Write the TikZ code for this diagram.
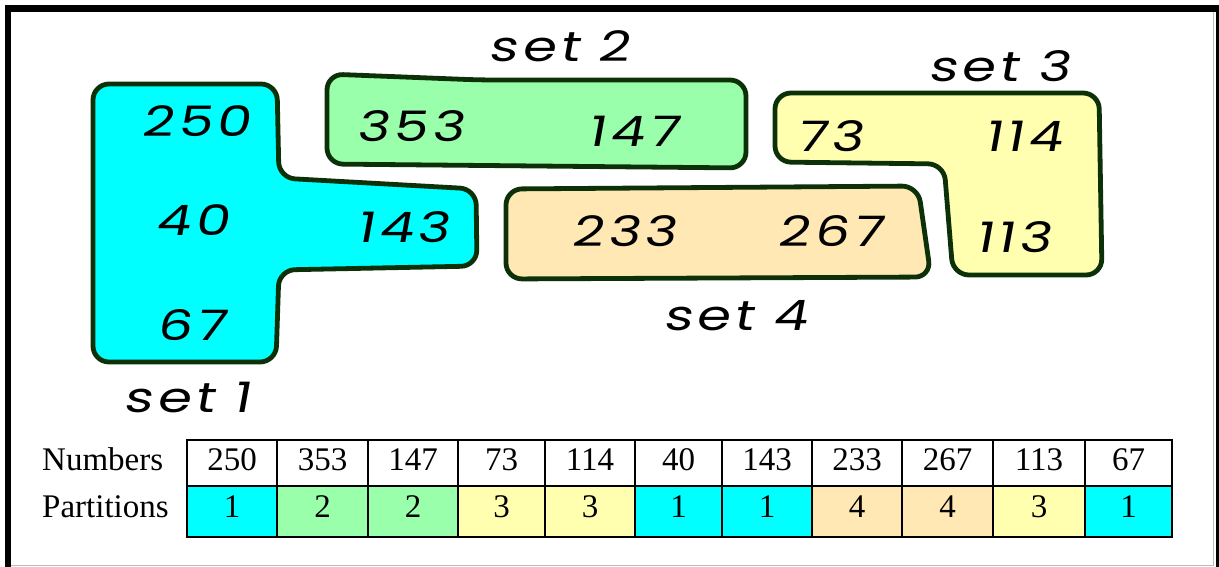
\documentclass[tikz,border=0pt]{standalone}
\usepackage{fontspec}
\setmainfont{Liberation Serif}
\newfontfamily\hand[FakeSlant=0.18,FakeStretch=1.3,LetterSpace=10]{Poppins}
\definecolor{cyanA}{RGB}{0,255,255}
\definecolor{greenA}{RGB}{153,255,170}
\definecolor{yellowA}{RGB}{255,255,175}
\definecolor{tanA}{RGB}{255,232,180}
\definecolor{edgeA}{RGB}{12,48,8}
\definecolor{frameG}{RGB}{190,190,190}
\begin{document}
\begin{tikzpicture}[x=1pt,y=-1pt,
  blob/.style={draw=edgeA,line width=4.8pt,line join=round,rounded corners=16pt},
  num/.style={font=\hand\fontsize{42}{46}\selectfont,anchor=base,inner sep=0pt},
  setlab/.style={font=\hand\fontsize{42}{46}\selectfont,anchor=base,inner sep=0pt},
  cell/.style={draw=black,line width=1.8pt,inner sep=0pt,minimum height=46pt,
    font=\fontsize{33}{36}\selectfont},
  rowlab/.style={font=\fontsize{33}{36}\selectfont,anchor=base west,inner sep=0pt}]
\useasboundingbox (0,0) rectangle (1219,567);
% frame
\fill[black] (5,5) rectangle (1219,12);
\fill[black] (5,5) rectangle (11,567);
\fill[black] (1216,5) rectangle (1219,567);
\draw[frameG,line width=1.5pt] (1213.5,12) -- (1213.5,565.5) -- (11,565.5);
% set 1
\draw[blob,fill=cyanA] (93,220) -- (93,84) -- (277,84) -- (279,178) -- (476,189) -- (477,266) -- (279,270) -- (276,362) -- (93,362) -- cycle;
% set 2
\draw[blob,fill=greenA] (327,120) -- (327,74) -- (480,80) -- (746,80) -- (746,168) -- (327,164) -- cycle;
% set 4
\draw[blob,fill=tanA] (506,230) -- (506,189) -- (918,186) -- (931,277) -- (506,279) -- cycle;
% set 3
\draw[blob,fill=yellowA] (775,125) -- (775,93) -- (1099,93) -- (1102,275) -- (953,275) -- (944,164) -- (775,162) -- cycle;
% numbers
\node[num] (s1a) at (196,137) {250};
\node[num] (s1b) at (192,235) {40};
\node[num] (s1c) at (403,242) {143};
\node[num] (s1d) at (191,340) {67};
\node[num] (s2a) at (410,142) {353};
\node[num] (s2b) at (633,147) {147};
\node[num] (s4a) at (624,247) {233};
\node[num] (s4b) at (830,247) {267};
\node[num] (s3a) at (830,152) {73};
\node[num] (s3b) at (1023,152) {114};
\node[num] (s3c) at (1013,252) {113};
% set labels
\node[setlab] (l1) at (187,412) {set 1};
\node[setlab] (l2) at (559,62) {set 2};
\node[setlab] (l3) at (999,82) {set 3};
\node[setlab] (l4) at (735,330) {set 4};
% table
\node[rowlab] (rn) at (42,470) {Numbers};
\node[rowlab] (rp) at (42,517) {Partitions};
\foreach \a/\b/\n/\p/\c [count=\i] in {187/277/250/1/cyanA,277/368/353/2/greenA,368/458/147/2/greenA,458/545/73/3/yellowA,545/635/114/3/yellowA,635/722/40/1/cyanA,722/812/143/1/cyanA,812/902/233/4/tanA,902/993/267/4/tanA,993/1085/113/3/yellowA,1085/1172/67/1/cyanA}{
  \node[cell,minimum width={(\b-\a)*1pt},minimum height=46pt] (n\i) at ({(\a+\b)/2},463) {};
  \node[cell,fill=\c,minimum width={(\b-\a)*1pt},minimum height=51pt] (p\i) at ({(\a+\b)/2},511.5) {};
  \node[font=\fontsize{33}{36}\selectfont,anchor=base,inner sep=0pt] (tn\i) at ({(\a+\b)/2},470) {\n};
  \node[font=\fontsize{33}{36}\selectfont,anchor=base,inner sep=0pt] (tp\i) at ({(\a+\b)/2},517) {\p};
}
\end{tikzpicture}
\end{document}
